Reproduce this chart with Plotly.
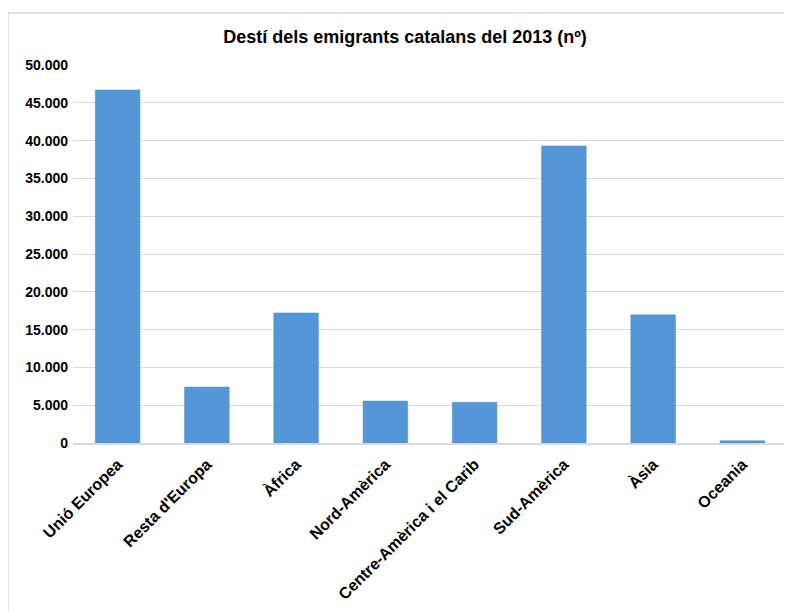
import plotly.graph_objects as go

categories = ["Unió Europea", "Resta d'Europa", "Àfrica", "Nord-Amèrica",
              "Centre-Amèrica i el Carib", "Sud-Amèrica", "Àsia", "Oceania"]
emigrants = [46700, 7400, 17200, 5550, 5400, 39300, 16950, 300]
y_ticks = [0, 5000, 10000, 15000, 20000, 25000, 30000, 35000, 40000, 45000, 50000]
y_labels = ["0", "5.000", "10.000", "15.000", "20.000", "25.000",
            "30.000", "35.000", "40.000", "45.000", "50.000"]

fig = go.Figure(go.Bar(
    x=categories,
    y=emigrants,
    marker=dict(color="#5597d6", line=dict(color="#4a8ccc", width=0.5)),
))

# the page adds an 8px body margin, so everything is pulled up/left by 8px
fig.update_layout(
    width=792, height=611,
    margin=dict(l=65, r=13, t=57, b=176),
    paper_bgcolor="white", plot_bgcolor="white",
    bargap=0.5,
    showlegend=False,
    font=dict(family="Liberation Sans, Arial, sans-serif", color="#000000"),
    title=dict(text="<b>Destí dels emigrants catalans del 2013 (nº)</b>",
               x=397 / 792, xanchor="center", xref="container",
               y=1 - 29 / 611, yanchor="middle", yref="container",
               font=dict(size=18, color="#000000")),
    shapes=[dict(type="rect", xref="paper", yref="paper",
                 x0=-0.091, x1=1.2, y0=-0.6, y1=1.1376,
                 line=dict(color="#d9d9d9", width=1.5), layer="below")],
)

fig.update_xaxes(
    tickangle=-45,
    tickfont=dict(size=16, color="#000000"),
    tickprefix="<b>", ticksuffix="</b>",
    showline=True, linecolor="#d9d9d9", linewidth=1.5,
    ticks="", ticklabelstandoff=4,
    automargin=False,
)
fig.update_yaxes(
    range=[0, 50000],
    tickvals=y_ticks,
    ticktext=["<b>" + t + "</b>" for t in y_labels],
    tickfont=dict(size=14, color="#000000"),
    showgrid=True, gridcolor="#d9d9d9", gridwidth=1,
    zeroline=False,
    ticks="", ticklabelstandoff=4,
    automargin=False,
)

fig.write_html("out.html")
